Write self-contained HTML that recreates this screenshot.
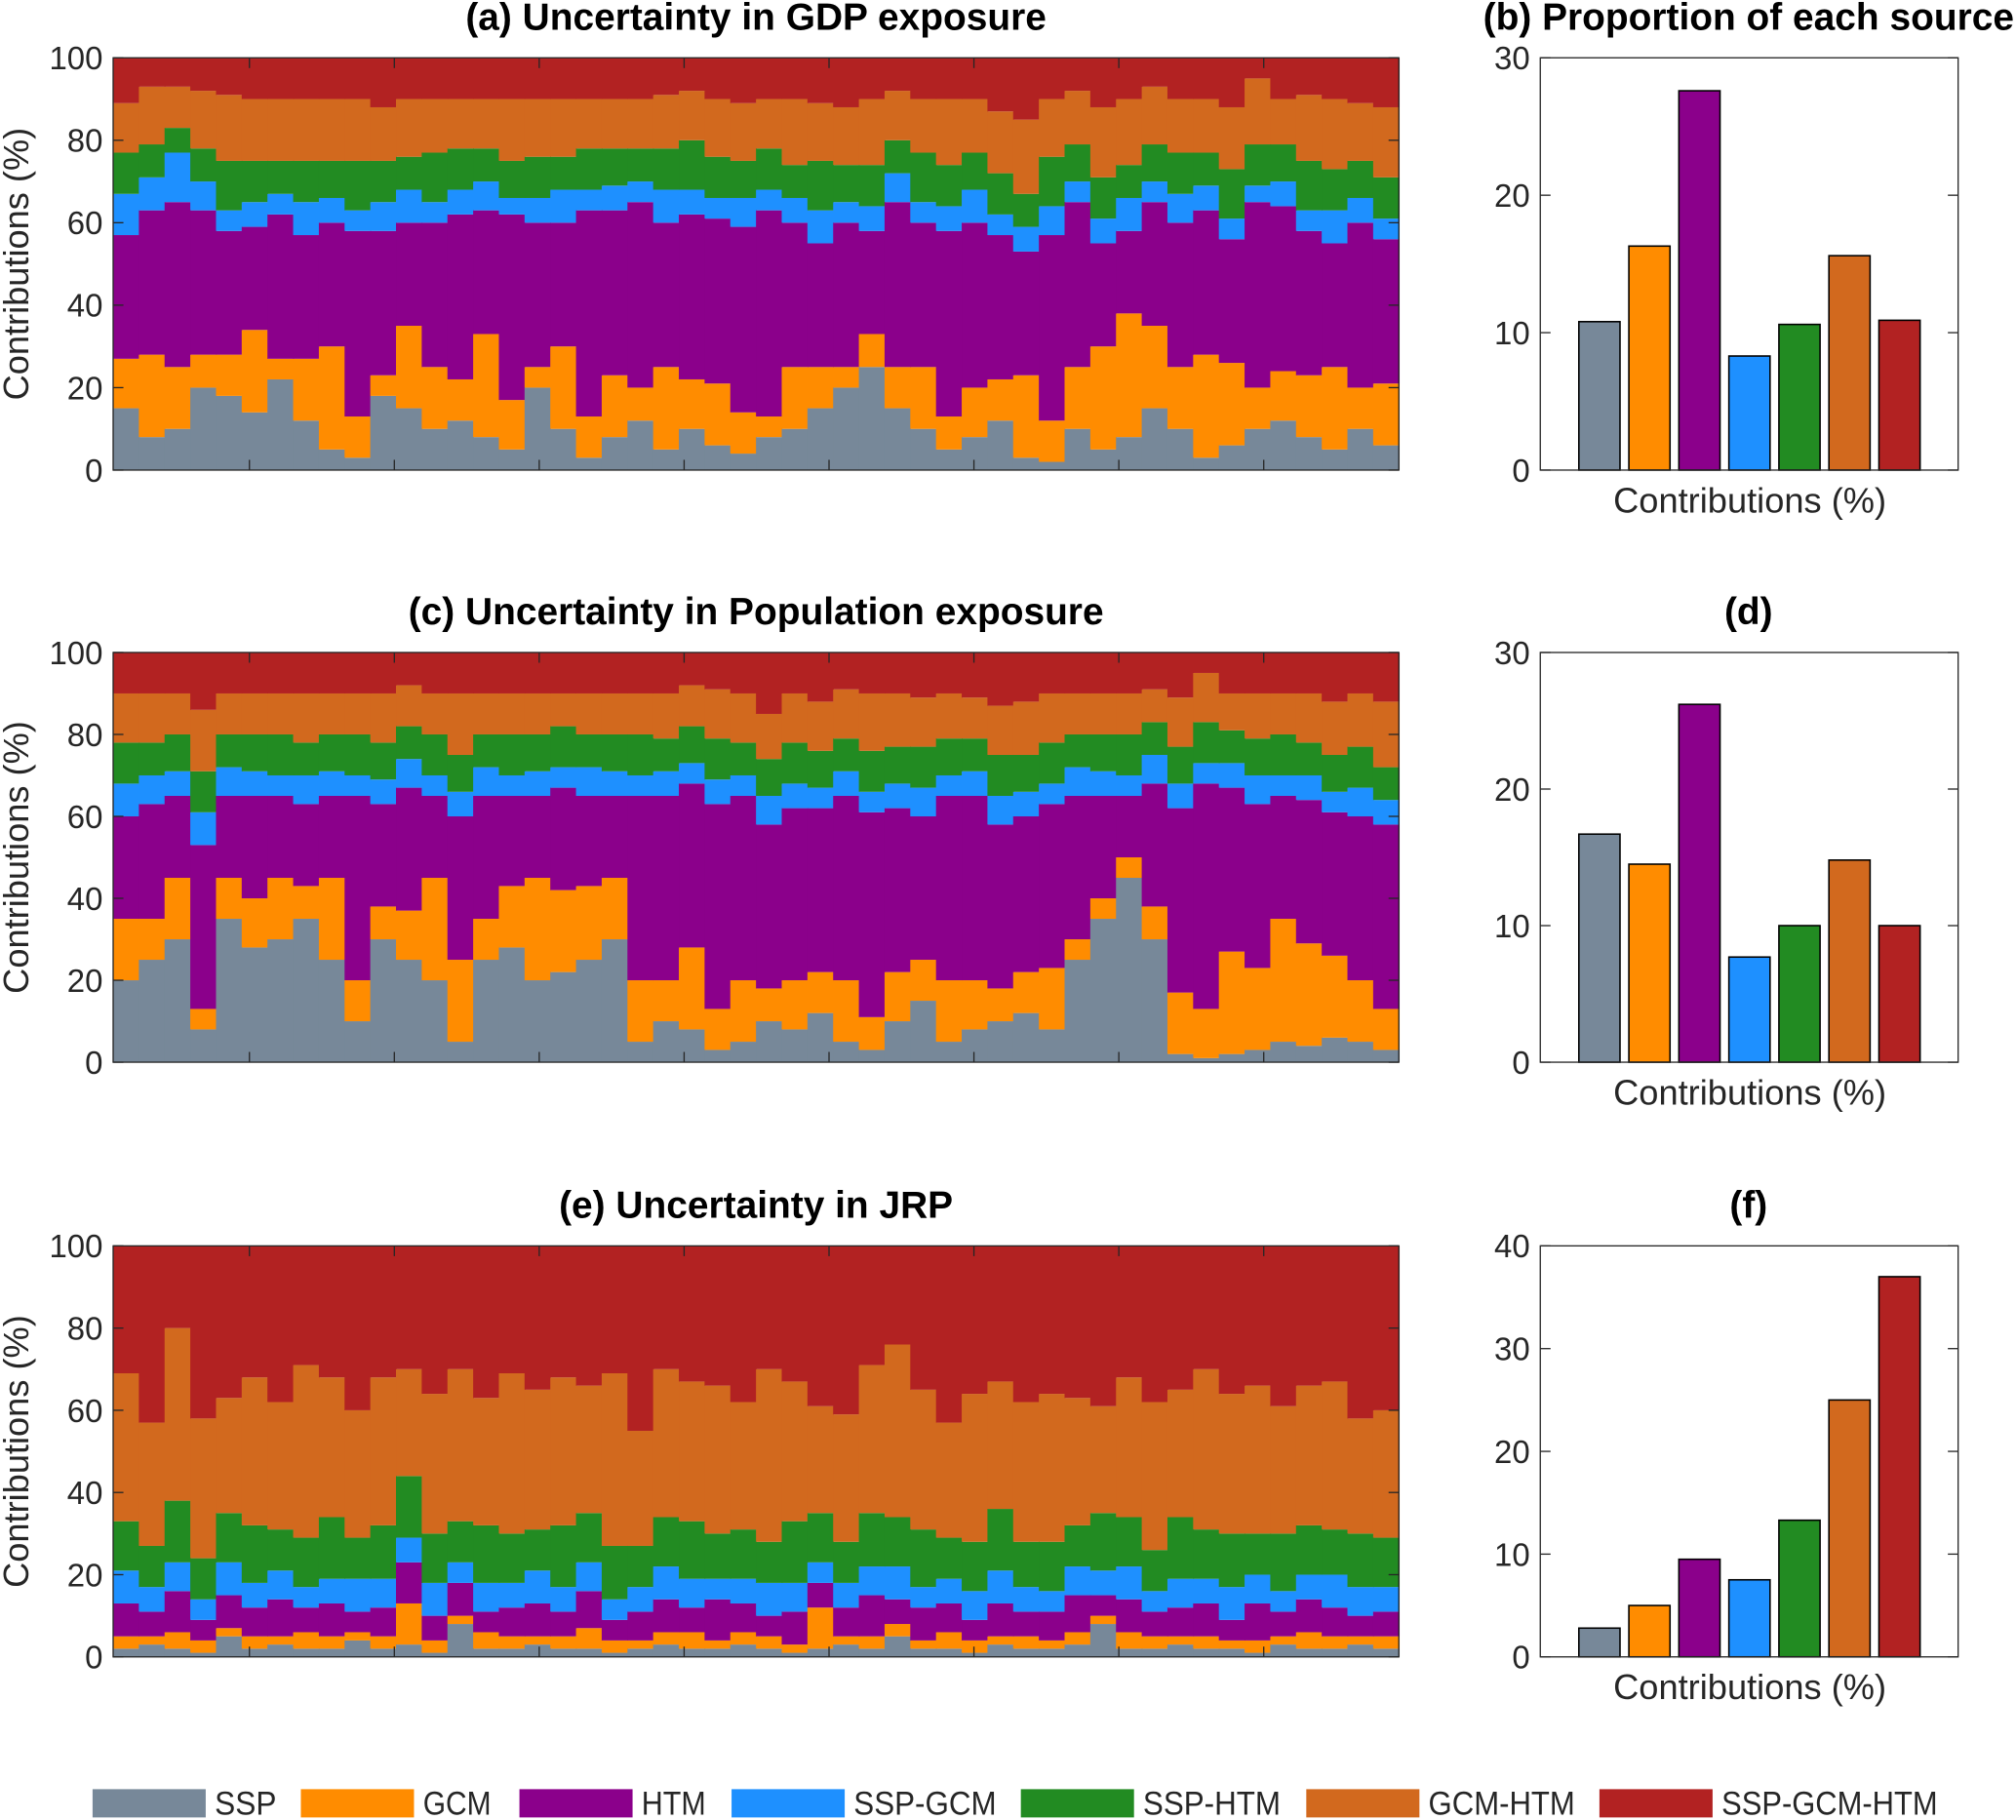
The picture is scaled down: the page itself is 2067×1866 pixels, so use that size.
<!DOCTYPE html>
<html><head><meta charset="utf-8">
<style>
html,body{margin:0;padding:0;background:#fff;}
svg{display:block;font-family:"Liberation Sans",sans-serif;}
</style></head>
<body>
<svg id="fig" width="2067" height="1866" viewBox="0 0 1568 1417" preserveAspectRatio="none" xmlns="http://www.w3.org/2000/svg"></svg>
<script>
const seriesNames = ["SSP","GCM","HTM","SSP-GCM","SSP-HTM","GCM-HTM","SSP-GCM-HTM"];
const seriesColors = ["#778899","#FF8C00","#8B008B","#1E90FF","#228B22","#D2691E","#B22222"];

// Panel (a) GDP exposure
const a_ssp = [15,8,10,20,18,14,22,12,5,3,18,15,10,12,8,5,20,10,3,8,12,5,10,6,4,8,10,15,20,25,15,10,5,8,12,3,2,10,5,8,15,10,3,6,10,12,8,5,10,6];
const a_gcm = [12,20,15,8,10,20,5,15,25,10,5,20,15,10,25,12,5,20,10,15,8,20,12,15,10,5,15,10,5,8,10,15,8,12,10,20,10,15,25,30,20,15,25,20,10,12,15,20,10,15];
const a_htm = [30,35,40,35,30,25,35,30,30,45,35,25,35,40,30,45,35,30,50,40,45,35,40,40,45,50,35,30,35,25,40,35,45,40,35,30,45,40,25,20,30,35,35,30,45,40,35,30,40,35];
const a_sspgcm = [10,8,12,7,5,6,5,8,6,5,7,8,5,6,7,4,6,8,5,6,5,8,6,5,7,5,6,8,5,6,7,5,6,8,5,6,7,5,6,8,5,7,6,5,4,6,5,8,6,5];
const a_ssphtm = [10,8,6,8,12,10,8,10,9,12,10,8,12,10,8,9,10,8,10,9,8,10,12,10,9,10,8,12,9,10,8,12,10,9,10,8,12,9,10,8,9,10,8,12,10,9,12,10,9,10];
const a_gcmhtm = [12,14,10,14,16,15,15,15,15,15,13,14,13,12,12,15,14,14,12,12,12,13,12,14,14,12,16,14,14,16,12,13,16,13,15,18,14,13,17,16,14,13,13,15,16,11,16,17,14,17];

// Panel (c) Population exposure
const c_ssp = [20,25,30,8,35,28,30,35,25,10,30,25,20,5,25,28,20,22,25,30,5,10,8,3,5,10,8,12,5,3,10,15,5,8,10,12,8,25,35,45,30,2,1,2,3,5,4,6,5,3];
const c_gcm = [15,10,15,5,10,12,15,8,20,10,8,12,25,20,10,15,25,20,18,15,15,10,20,10,15,8,12,10,15,8,12,10,15,12,8,10,15,5,5,5,8,15,12,25,20,30,25,20,15,10];
const c_htm = [25,28,20,40,20,25,20,20,20,45,25,30,20,35,30,22,20,25,22,20,45,45,40,50,45,40,42,40,45,50,40,35,45,45,40,38,40,35,25,15,30,45,55,40,40,30,35,35,40,45];
const c_sspgcm = [8,7,6,8,7,6,5,7,6,5,6,7,5,6,7,5,6,5,7,6,5,6,5,6,5,7,6,5,6,5,6,7,5,6,7,6,5,7,6,5,7,6,5,6,7,5,6,5,7,6];
const c_ssphtm = [10,8,9,10,8,9,10,8,9,10,9,8,10,9,8,10,9,10,8,9,10,8,9,10,8,9,10,9,8,10,9,10,9,8,10,9,10,8,9,10,8,9,10,8,9,10,8,9,10,8];
const c_gcmhtm = [12,12,10,15,10,10,10,12,10,10,12,10,10,15,10,10,10,8,10,10,10,11,10,12,12,11,12,12,12,14,13,12,11,10,12,13,12,10,10,10,8,12,12,9,11,10,12,13,13,16];

// Panel (e) JRP
const e_ssp = [2,3,2,1,5,2,3,2,2,4,2,3,1,8,2,2,3,2,2,1,2,3,2,2,3,2,1,2,3,2,5,2,2,1,3,2,2,3,8,2,2,3,2,2,1,3,2,2,3,2];
const e_gcm = [3,2,4,3,2,3,2,4,3,2,3,10,3,2,4,3,2,3,5,3,2,3,4,2,3,3,2,10,2,3,3,2,4,3,2,3,2,3,2,4,3,2,3,2,3,2,4,3,2,3];
const e_htm = [8,6,10,5,8,7,9,6,8,5,7,10,6,8,5,7,8,6,9,5,7,8,6,10,7,5,8,6,7,10,6,8,7,5,8,6,7,9,5,8,6,7,8,5,9,6,8,7,5,6];
const e_sspgcm = [8,6,7,5,8,6,7,5,6,8,7,6,8,5,7,6,8,6,7,5,6,8,7,5,6,8,7,5,6,7,8,5,6,7,8,6,5,7,6,8,5,7,6,8,7,5,6,8,7,6];
const e_ssphtm = [12,10,15,10,12,14,10,12,15,10,13,15,12,10,14,12,10,15,12,13,10,12,14,11,12,10,15,12,10,13,12,14,10,12,15,11,12,10,14,12,10,15,12,13,10,14,12,11,13,12];
const e_gcmhtm = [36,30,42,34,28,36,31,42,34,31,36,26,34,37,31,39,34,36,31,42,28,36,34,36,31,42,34,26,31,36,42,34,28,36,31,34,36,31,26,34,36,31,39,34,36,31,34,36,28,31];

// Right panels: proportions
const b_values = [10.8,16.3,27.6,8.3,10.6,15.6,10.9];
const d_values = [16.7,14.5,26.2,7.7,10.0,14.8,10.0];
const f_values = [2.8,5.0,9.5,7.5,13.3,25.0,37.0];
const leftTicks = [0,20,40,60,80,100];
const b_ticks = [0,10,20,30];
const f_ticks = [0,10,20,30,40];

const NS = "http://www.w3.org/2000/svg";
const svg = document.getElementById("fig");
function mk(tag, attrs, parent){
  const el = document.createElementNS(NS, tag);
  for (const k in attrs) el.setAttribute(k, attrs[k]);
  (parent||svg).appendChild(el);
  return el;
}
function txt(s, attrs, parent){ const t = mk("text", attrs, parent); t.textContent = s; return t; }

function stackPanel(key, title, x0, x1, yTop, yBot, series){
  const g = mk("g", {});
  
  
  const n = series[0].length;
  const bw = (x1 - x0) / n;
  const xs = i => x0 + i * bw;
  const ys = v => yBot - (v / 100) * (yBot - yTop);
  for (let i = 0; i < n; i++){
    let cum = 0;
    for (let s = 0; s < 7; s++){
      const v = s < 6 ? series[s][i] : Math.max(0, 100 - cum);
      const r = mk("rect", {x: xs(i), y: ys(cum + v), width: bw + 0.6, height: ys(cum) - ys(cum + v), fill: seriesColors[s]}, g);
      
      
      cum += v;
    }
  }
  const fr = mk("rect", {x: x0, y: yTop, width: x1 - x0, height: yBot - yTop, fill: "none", stroke: "#262626", "stroke-width": 1}, g);
  
  
  for (let k = 1; k <= 8; k++){
    const xt = x0 + k * 112.7 - 6.7;
    if (xt >= x1) break;
    mk("line", {x1: xt, x2: xt, y1: yBot, y2: yBot - 8, stroke: "#262626"}, g);
    mk("line", {x1: xt, x2: xt, y1: yTop, y2: yTop + 8, stroke: "#262626"}, g);
  }
  leftTicks.forEach(t => {
    const y = ys(t);
    mk("line", {x1: x0, x2: x0 + 8, y1: y, y2: y, stroke: "#262626"}, g);
    mk("line", {x1: x1, x2: x1 - 8, y1: y, y2: y, stroke: "#262626"}, g);
    const lb = txt(String(t), {x: x0 - 8, y: y + 9, "text-anchor": "end", "font-size": 25, fill: "#262626"}, g);
    
    
  });
  const yl = txt("Contributions (%)", {x: 0, y: 0, "text-anchor": "middle", "font-size": 27.5, fill: "#262626", transform: "translate(22," + ((yTop + yBot) / 2) + ") rotate(-90)"}, g);
  
  
  const tt = txt(title, {x: (x0 + x1) / 2, y: yTop - 22, "text-anchor": "middle", "font-size": 29.5, "font-weight": "bold", fill: "#000"}, g);
  
  
}

function barPanel(key, title, yTop, yBot, vals, ticks){
  const x0 = 1198, x1 = 1523;
  const ymax = ticks[ticks.length - 1];
  const ys = v => yBot - (v / ymax) * (yBot - yTop);
  const xc = i => 1244 + i * 38.9;
  const g = mk("g", {});
  
  
  vals.forEach((v, i) => {
    const r = mk("rect", {x: xc(i) - 16, y: ys(v), width: 32, height: ys(0) - ys(v), fill: seriesColors[i], stroke: "#000", "stroke-width": 1.2}, g);
    
    
  });
  const fr = mk("rect", {x: x0, y: yTop, width: x1 - x0, height: yBot - yTop, fill: "none", stroke: "#262626", "stroke-width": 1}, g);
  
  
  ticks.forEach(t => {
    const y = ys(t);
    mk("line", {x1: x0, x2: x0 + 8, y1: y, y2: y, stroke: "#262626"}, g);
    mk("line", {x1: x1, x2: x1 - 8, y1: y, y2: y, stroke: "#262626"}, g);
    const lb = txt(String(t), {x: x0 - 8, y: y + 9, "text-anchor": "end", "font-size": 25, fill: "#262626"}, g);
    
    
  });
  const xl = txt("Contributions (%)", {x: 1361, y: yBot + 33, "text-anchor": "middle", "font-size": 27.5, fill: "#262626"}, g);
  
  
  const tt = txt(title, {x: 1360, y: yTop - 22, "text-anchor": "middle", "font-size": 29.5, "font-weight": "bold", fill: "#000"}, g);
  
  
}

stackPanel("panel-a", "(a) Uncertainty in GDP exposure", 88, 1088, 45, 366, [a_ssp,a_gcm,a_htm,a_sspgcm,a_ssphtm,a_gcmhtm]);
stackPanel("panel-c", "(c) Uncertainty in Population exposure", 88, 1088, 508, 827, [c_ssp,c_gcm,c_htm,c_sspgcm,c_ssphtm,c_gcmhtm]);
stackPanel("panel-e", "(e) Uncertainty in JRP", 88, 1088, 970, 1290, [e_ssp,e_gcm,e_htm,e_sspgcm,e_ssphtm,e_gcmhtm]);
barPanel("panel-b", "(b) Proportion of each source", 45, 366, b_values, b_ticks);
barPanel("panel-d", "(d)", 508, 827, d_values, b_ticks);
barPanel("panel-f", "(f)", 970, 1290, f_values, f_ticks);

// Legend
const legX = [72,234,404,569,794,1016,1244];
const legW = [48,53,50,111,107,114,168];
const lg = mk("g", {});


seriesNames.forEach((nm, i) => {
  const p = mk("rect", {x: legX[i], y: 1393, width: 88, height: 22, fill: seriesColors[i]}, lg);
  
  
  const t = txt(nm, {x: legX[i] + 95, y: 1413, "font-size": 26, fill: "#262626", textLength: legW[i], lengthAdjust: "spacingAndGlyphs"}, lg);
  
  
});
</script>
</body></html>
